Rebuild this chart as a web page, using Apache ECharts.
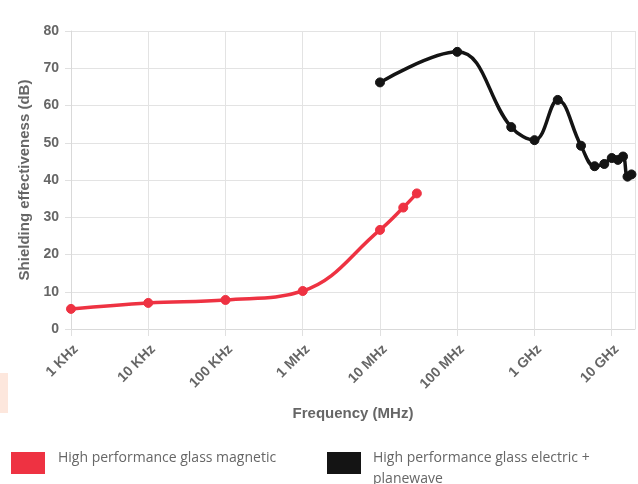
<!DOCTYPE html>
<html>
<head>
<meta charset="utf-8">
<script src="https://cdn.jsdelivr.net/npm/echarts@6/dist/echarts.min.js"></script>
<style>
html,body{margin:0;padding:0;background:#fff;}
#chart{width:638px;height:484px;}
</style>
</head>
<body>
<div id="chart"></div>
<script>
// Frequencies in MHz
const tickLabels = ['1 KHz', '10 KHz', '100 KHz', '1 MHz', '10 MHz', '100 MHz', '1 GHz', '10 GHz'];
const magneticFreq = [0.001, 0.01, 0.1, 1, 10, 20, 30];
const magneticValues = [5.4, 7.0, 7.8, 10.2, 26.6, 32.6, 36.4];
const electricFreq = [10, 100, 500, 1000, 2000, 4000, 6000, 8000, 10000, 12000, 14000, 16000, 18000];
const electricValues = [66.2, 74.4, 54.2, 50.7, 61.5, 49.2, 43.7, 44.3, 45.9, 45.4, 46.3, 40.9, 41.5];
const seriesNames = ['High performance glass magnetic', 'High performance glass electric + planewave'];
const legendLines = [['High performance glass magnetic'], ['High performance glass electric +', 'planewave']];

const toPairs = (xs, ys) => xs.map((x, i) => [x, ys[i]]);
const RED = '#ee3242';
const BLACK = '#141414';
const AXIS_FONT = 'Liberation Sans, Arial, Helvetica, sans-serif';
const legendText = { color: '#666', fontSize: 14, fontFamily: 'Open Sans', lineHeight: 21 };

function iconLegend(name, left) {
  return {
    data: [name], left: left, top: 452, padding: 0,
    icon: 'rect', itemWidth: 34, itemHeight: 22,
    formatter: function () { return ''; },
    textStyle: { fontSize: 1, lineHeight: 1 },
    selectedMode: false
  };
}
function textLegend(name, left, lines) {
  return {
    data: [name], left: left, top: 448, padding: 0,
    icon: 'none', itemWidth: 0, itemHeight: 1,
    formatter: function () { return lines.join('\n'); },
    textStyle: legendText,
    selectedMode: false
  };
}

const chart = echarts.init(document.getElementById('chart'));
chart.setOption({
  animation: false,
  backgroundColor: '#fff',
  grid: { left: 71, right: 3, top: 31, bottom: 155, containLabel: false },
  xAxis: {
    type: 'log',
    logBase: 10,
    min: 0.001,
    max: 20000,
    name: 'Frequency (MHz)',
    nameLocation: 'middle',
    nameGap: 77,
    nameTextStyle: { color: '#666', fontSize: 15, fontWeight: 'bold', fontFamily: AXIS_FONT },
    axisLine: { show: true, lineStyle: { color: '#d9d9d9', width: 1 } },
    axisTick: { show: true, length: 7, lineStyle: { color: '#e0e0e0' } },
    splitLine: { show: true, lineStyle: { color: '#e3e3e3', width: 1 } },
    axisLabel: {
      rotate: 45,
      color: '#666',
      fontSize: 14,
      fontWeight: 'bold',
      fontFamily: AXIS_FONT,
      margin: 13,
      verticalAlign: 'top',
      showMaxLabel: false,
      formatter: function (v) {
        const e = Math.log10(v);
        const r = Math.round(e);
        if (Math.abs(e - r) > 1e-6) return '';
        const idx = r + 3;
        return tickLabels[idx] || '';
      }
    }
  },
  yAxis: {
    type: 'value',
    min: 0,
    max: 80,
    interval: 10,
    name: 'Shielding effectiveness (dB)',
    nameLocation: 'middle',
    nameGap: 38,
    nameTextStyle: { color: '#666', fontSize: 15, fontWeight: 'bold', fontFamily: AXIS_FONT },
    axisLine: { show: true, lineStyle: { color: '#d9d9d9', width: 1 } },
    axisTick: { show: true, length: 6, lineStyle: { color: '#e0e0e0' } },
    splitLine: { show: true, lineStyle: { color: '#e3e3e3', width: 1 } },
    axisLabel: { color: '#666', fontSize: 14, fontWeight: 'bold', fontFamily: AXIS_FONT, margin: 12 }
  },
  legend: [
    iconLegend(seriesNames[0], 11),
    textLegend(seriesNames[0], 53, legendLines[0]),
    iconLegend(seriesNames[1], 327),
    textLegend(seriesNames[1], 368, legendLines[1])
  ],
  graphic: [
    { type: 'rect', left: 0, top: 373, shape: { width: 8, height: 40 }, style: { fill: '#fde7dd' }, silent: true }
  ],
  series: [
    {
      name: seriesNames[0],
      type: 'line',
      data: toPairs(magneticFreq, magneticValues),
      smooth: 0.4,
      symbol: 'circle',
      symbolSize: 9,
      lineStyle: { color: RED, width: 3.5 },
      itemStyle: { color: RED, borderColor: RED },
      z: 3
    },
    {
      name: seriesNames[1],
      type: 'line',
      data: toPairs(electricFreq, electricValues),
      smooth: 0.4,
      symbol: 'circle',
      symbolSize: 9,
      lineStyle: { color: BLACK, width: 3.5 },
      itemStyle: { color: BLACK, borderColor: BLACK },
      z: 3
    }
  ]
});
</script>
</body>
</html>
